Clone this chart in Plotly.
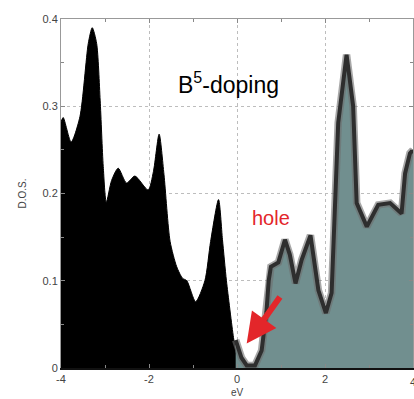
import plotly.graph_objects as go

# Occupied states (black, below Fermi level)
occ_ev = [-4.0, -3.95, -3.77, -3.57, -3.38, -3.29, -3.19, -3.11, -3.04, -2.97,
          -2.85, -2.70, -2.51, -2.32, -2.02, -1.90, -1.77, -1.66, -1.52, -1.37,
          -1.24, -1.14, -0.94, -0.73, -0.60, -0.42, -0.33, -0.24, -0.08, 0.0]
occ_dos = [0.282, 0.287, 0.259, 0.288, 0.372, 0.390, 0.372, 0.307, 0.231, 0.190,
           0.215, 0.229, 0.212, 0.220, 0.204, 0.225, 0.268, 0.222, 0.145, 0.116,
           0.103, 0.100, 0.076, 0.100, 0.145, 0.193, 0.147, 0.100, 0.035, 0.010]

# Unoccupied states (teal, above Fermi level)
unocc_ev = [-0.03, 0.10, 0.22, 0.41, 0.56, 0.67, 0.72, 0.77, 0.94, 1.09,
            1.20, 1.33, 1.47, 1.67, 1.85, 2.02, 2.15, 2.23, 2.30, 2.49,
            2.64, 2.72, 2.95, 3.21, 3.48, 3.74, 3.82, 3.93, 4.0]
unocc_dos = [0.032, 0.012, 0.003, 0.003, 0.020, 0.065, 0.100, 0.116, 0.121, 0.147,
             0.130, 0.097, 0.124, 0.152, 0.089, 0.063, 0.086, 0.204, 0.281, 0.359,
             0.300, 0.189, 0.162, 0.187, 0.189, 0.177, 0.223, 0.246, 0.250]

x_ticks = [-4, -2, 0, 2]
x_tick_labels = ["-4", "-2", "0", "2"]
x_edge_tick = 4
y_ticks = [0, 0.1, 0.2, 0.3, 0.4]
y_tick_labels = ["0", "0.1", "0.2", "0.3", "0.4"]

FONT = "Liberation Sans, Arial, sans-serif"
TEAL = "#718f8f"

fig = go.Figure()
fig.add_trace(go.Scatter(x=occ_ev, y=occ_dos, mode="lines", fill="tozeroy",
                         fillcolor="black", line=dict(color="black", width=1,
                                                      shape="spline", smoothing=0.7),
                         showlegend=False, hoverinfo="skip"))
fig.add_trace(go.Scatter(x=unocc_ev, y=unocc_dos, mode="lines", fill="tozeroy",
                         fillcolor=TEAL, line=dict(color="rgba(110,110,110,0.6)", width=7.5),
                         showlegend=False, hoverinfo="skip"))
fig.add_trace(go.Scatter(x=unocc_ev, y=unocc_dos, mode="lines",
                         line=dict(color="#2e2e2e", width=4),
                         showlegend=False, hoverinfo="skip"))
# invisible trace for top axis
fig.add_trace(go.Scatter(x=[-4, 4], y=[0, 0], xaxis="x2", mode="lines",
                         line=dict(width=0), showlegend=False, hoverinfo="skip"))

fig.update_layout(
    width=414, height=399,
    margin=dict(l=61, r=1, t=19, b=31),
    paper_bgcolor="white", plot_bgcolor="white",
    font=dict(family=FONT, size=11, color="#444"),
    xaxis=dict(range=[-4, 4], tickvals=x_ticks + [x_edge_tick], ticktext=x_tick_labels + [""],
               showgrid=True, gridcolor="#bdbdbd", griddash="dot", gridwidth=1,
               zeroline=False, showline=True, linecolor="#111", linewidth=2,
               ticks="inside", ticklen=4, tickcolor="#888", automargin=False,
               minor=dict(dtick=1, ticks="inside", ticklen=3, tickcolor="#888", showgrid=False)),
    xaxis2=dict(range=[-4, 4], overlaying="x", side="top", showticklabels=False,
                showgrid=False, zeroline=False, showline=True, linecolor="#999",
                linewidth=1, ticks="inside", ticklen=4, tickcolor="#888",
                tickvals=x_ticks,
                minor=dict(dtick=1, ticks="inside", ticklen=3, tickcolor="#888")),
    yaxis=dict(range=[0, 0.4], tickvals=y_ticks, ticktext=y_tick_labels,
               showgrid=True, gridcolor="#bdbdbd", griddash="dot", gridwidth=1,
               zeroline=False, showline=True, linecolor="#999", linewidth=1,
               mirror="ticks", ticks="inside", ticklen=4, tickcolor="#888",
               minor=dict(dtick=0.05, ticks="inside", ticklen=3, tickcolor="#888", showgrid=False),
               title=dict(text="D.O.S.", font=dict(size=10, color="#444"), standoff=14)),
)

fig.add_annotation(x=x_edge_tick, y=0, xref="x", yref="paper", xanchor="center",
                   yanchor="middle", yshift=-14, text=str(x_edge_tick), showarrow=False,
                   font=dict(family=FONT, size=11, color="#444"))
fig.add_annotation(x=0, y=0, xref="x", yref="paper", yanchor="middle", yshift=-24,
                   text="eV", showarrow=False, font=dict(family=FONT, size=10, color="#444"))
fig.add_annotation(x=-0.2, y=0.327, xref="x", yref="y", text="B<sup>5</sup>-doping",
                   showarrow=False, font=dict(family=FONT, size=23, color="black"))
fig.add_annotation(x=0.78, y=0.172, xref="x", yref="y", text="hole",
                   showarrow=False, font=dict(family=FONT, size=20, color="#e3262a"))
fig.add_annotation(x=0.22, y=0.028, ax=1.0, ay=0.083, xref="x", yref="y",
                   axref="x", ayref="y", text="", showarrow=True,
                   arrowhead=2, arrowsize=1.0, arrowwidth=6, arrowcolor="#e3262a")

fig.write_html("out.html", config={"displayModeBar": False},
               post_script="document.body.style.margin='0';document.body.style.overflow='hidden';")
